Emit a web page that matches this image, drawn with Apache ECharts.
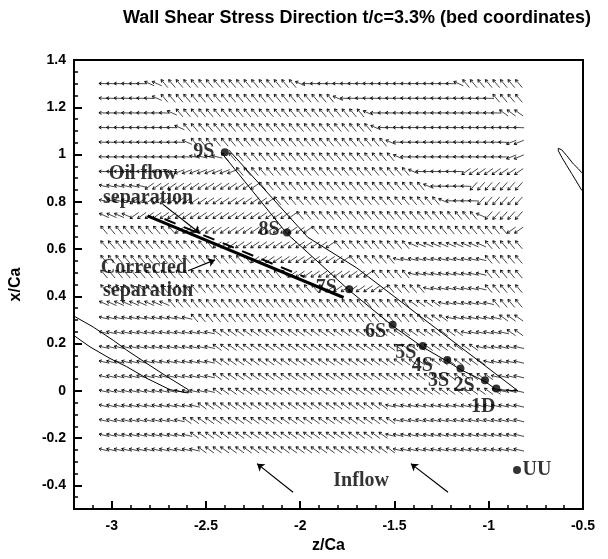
<!DOCTYPE html>
<html>
<head>
<meta charset="utf-8">
<script src="https://cdn.jsdelivr.net/npm/echarts@6/dist/echarts.min.js"></script>
<style>
html,body{margin:0;padding:0;background:#fff;}
#chart{width:608px;height:559px;}
</style>
</head>
<body>
<div id="chart"></div>
<script>
// ---- vector grid: row positions (x/Ca) and column positions (z/Ca)
const rowX = [1.30, 1.238, 1.176, 1.114, 1.052, 0.990, 0.928, 0.866, 0.804, 0.742, 0.680, 0.618, 0.556,
              0.494, 0.432, 0.370, 0.308, 0.246, 0.184, 0.122, 0.060, -0.002, -0.064, -0.126, -0.188, -0.250];
const colZ = [-3.04, -3.00, -2.96, -2.92, -2.88, -2.84, -2.80, -2.76, -2.72, -2.68, -2.64, -2.60, -2.56, -2.52,
              -2.48, -2.44, -2.40, -2.36, -2.32, -2.28, -2.24, -2.20, -2.16, -2.12, -2.08, -2.04, -2.00, -1.96,
              -1.92, -1.88, -1.84, -1.80, -1.76, -1.72, -1.68, -1.64, -1.60, -1.56, -1.52, -1.48, -1.44, -1.40,
              -1.36, -1.32, -1.28, -1.24, -1.20, -1.16, -1.12, -1.08, -1.04, -1.00, -0.96, -0.92, -0.88, -0.84];

// direction codes -> shear stress direction angle (degrees, counter-clockwise from +z)
const dirAngle = {a: 178, b: 167, c: 156, d: 144, e: 130, f: 122, g: 112, h: 190, i: 202, j: 215, k: 228, l: 240};

// run-length coded directions along each row, top row first (count + code)
const dirRows = [
  "6a 2c 18e 1c 20a 1c 8e",
  "7a 1c 23e 1c 20a 4e",
  "9a 1c 25e 1c 17a 3d",
  "10a 1c 25e 1c 19a",
  "11a 1c 26e 1c 15a 2i",
  "12a 4b 23e 1c 14a 2i",
  "10a 8i 23e 1c 6a 8j",
  "6b 15j 22e 1c 5a 7k",
  "4b 19j 22e 1c 4a 6k",
  "4c 22j 24e 1c 5k",
  "10e 18j 26e 2j",
  "15e 16j 10e 10c 5e",
  "20e 13j 6e 12b 5e",
  "25e 11j 5e 10b 5e",
  "30e 8j 5e 8b 5e",
  "9c 32e 4d 7b 4e",
  "12b 31e 3d 7b 3d",
  "15b 33d 6b 2d",
  "15b 35d 6b",
  "15b 36d 5b",
  "15b 37d 4b",
  "15b 38d 3b",
  "13b 25d 18b",
  "11b 28d 17b",
  "12b 26d 18b",
  "13b 26d 17b"
];

// ---- measurement stations
const stationNames = ["9S", "8S", "7S", "6S", "5S", "4S", "3S", "2S", "1D", "UU"];
const stationZ = [-2.40, -2.07, -1.74, -1.51, -1.35, -1.22, -1.15, -1.02, -0.96, -0.85];
const stationX = [1.01, 0.67, 0.43, 0.28, 0.19, 0.13, 0.095, 0.045, 0.01, -0.335];

// ---- outlines
const wedgeUpperZ = [-2.38, -1.96, -1.70, -0.845];
const wedgeUpperX = [1.02, 0.65, 0.52, 0.0];
const wedgeLowerZ = [-2.41, -2.07, -1.74, -1.51, -1.35, -1.22, -1.15, -1.02, -0.96, -0.845];
const wedgeLowerX = [1.00, 0.665, 0.425, 0.275, 0.185, 0.125, 0.09, 0.04, 0.005, 0.0];

const oilSepZ = [-2.81, -1.77];          // oil flow separation (solid)
const oilSepX = [0.74, 0.395];
const corrSepZ = [-2.72, -1.98];         // corrected separation (dashed)
const corrSepX = [0.727, 0.483];

const leftLoopZ = [-3.25, -3.195, -3.098, -2.992, -2.920, -2.814, -2.708, -2.594, -2.594, -2.691, -2.814, -2.920, -3.009, -3.115, -3.195, -3.25];
const leftLoopX = [0.34, 0.314, 0.270, 0.214, 0.172, 0.116, 0.061, 0.005, -0.009, 0.005, 0.053, 0.102, 0.137, 0.186, 0.231, 0.26];
const rightLoopZ = [-0.49, -0.507, -0.525, -0.551, -0.586, -0.613, -0.631, -0.631, -0.613, -0.586, -0.560, -0.533, -0.507, -0.49];
const rightLoopX = [0.915, 0.923, 0.940, 0.960, 0.995, 1.020, 1.026, 1.016, 0.989, 0.953, 0.919, 0.884, 0.849, 0.84];

// ---- arrows: [tailZ, tailX, headZ, headX]
const inflowArrows = [[-2.038, -0.429, -2.229, -0.308], [-1.216, -0.429, -1.413, -0.308]];
const pointerArrows = [[-2.728, 0.789, -2.532, 0.667], [-2.595, 0.508, -2.452, 0.554]];

// ---- annotation text [text, z, x]
const notes = [["Oil flow", -2.834, 0.919], ["separation", -2.807, 0.818],
               ["Corrected", -2.829, 0.521], ["separation", -2.807, 0.425], ["Inflow", -1.677, -0.379]];

const titleText = "Wall Shear Stress Direction t/c=3.3% (bed coordinates)";
const xMajor = [-3, -2.5, -2, -1.5, -1, -0.5];
const yMajor = [-0.4, -0.2, 0, 0.2, 0.4, 0.6, 0.8, 1, 1.2, 1.4];

// label offsets (px) for station names
const stationLabelOffset = {
  "9S": [-21, 0], "8S": [-18, -3], "7S": [-23, -1], "6S": [-17, 7], "5S": [-17, 7],
  "4S": [-25, 6], "3S": [-22, 12], "2S": [-21, 6], "1D": [-13, 18], "UU": [20, 0]
};

function decodeRow(s) {
  const out = [];
  s.trim().split(/\s+/).forEach(tok => {
    const n = parseInt(tok, 10);
    const ch = tok.replace(/[0-9]/g, '');
    for (let i = 0; i < n; i++) out.push(ch);
  });
  return out;
}

// each vector: [z, x, angle]
const fieldData = [];
dirRows.forEach((row, r) => {
  const codes = decodeRow(row);
  colZ.forEach((z, c) => {
    const ch = codes[c];
    if (ch && dirAngle[ch] !== undefined) fieldData.push([z, rowX[r], dirAngle[ch]]);
  });
});

function zip(a, b) { return a.map((v, i) => [v, b[i]]); }

// small arrow centred on its grid node
function renderVector(params, api) {
  const item = fieldData[params.dataIndex];
  const p = api.coord([item[0], item[1]]);
  const a = item[2] * Math.PI / 180;
  const ux = Math.cos(a), uy = -Math.sin(a);
  const L = 10.5, H = 3, t = 0.55;
  const tx = p[0] + ux * L / 2, ty = p[1] + uy * L / 2;
  const sx = p[0] - ux * L / 2, sy = p[1] - uy * L / 2;
  const c = Math.cos(t), s = Math.sin(t);
  const bx = -ux, by = -uy;
  const h1 = [tx + H * (bx * c - by * s), ty + H * (bx * s + by * c)];
  const h2 = [tx + H * (bx * c + by * s), ty + H * (-bx * s + by * c)];
  return {
    type: 'group',
    children: [
      {type: 'polyline', shape: {points: [[sx, sy], [tx, ty]]}, style: {stroke: '#333', lineWidth: 0.9, fill: null}},
      {type: 'polyline', shape: {points: [h1, [tx, ty], h2]}, style: {stroke: '#111', lineWidth: 1, fill: null}}
    ]
  };
}

function fmtX(v) {
  const r = Math.round(v * 100) / 100;
  return Math.abs(r * 2 - Math.round(r * 2)) < 1e-6 ? String(r) : '';
}
function fmtY(v) {
  const r = Math.round(v * 100) / 100;
  return Math.abs(r * 5 - Math.round(r * 5)) < 1e-6 ? String(r) : '';
}

const axisFont = {color: '#000', fontWeight: 'bold', fontSize: 14, fontFamily: 'Liberation Sans, Arial, sans-serif'};
const serifBold = {color: '#000', fontWeight: 'bold', fontSize: 20, fontFamily: 'Liberation Serif, Times New Roman, serif'};

const chart = echarts.init(document.getElementById('chart'));

const lineStyleSeries = (name, zs, xs, style) => ({
  type: 'line', name, data: zip(zs, xs), symbol: 'none', silent: true, animation: false,
  lineStyle: Object.assign({color: '#000', width: 1}, style), z: 4
});

chart.setOption({
  animation: false,
  backgroundColor: '#fff',
  grid: {left: 74, right: 25, top: 60, bottom: 45, show: true, borderColor: '#000', borderWidth: 2, backgroundColor: 'transparent'},
  graphic: [{
    type: 'text', x: 357, y: 18,
    style: {text: titleText, textAlign: 'center', textVerticalAlign: 'middle',
            font: 'bold 18px "Liberation Sans", Arial, sans-serif', fill: '#000'}
  }],
  xAxis: [
    {type: 'value', min: -3.2, max: -0.5, interval: 0.1, position: 'bottom',
     axisLine: {show: false, onZero: false}, splitLine: {show: false},
     axisTick: {inside: true, length: 4, lineStyle: {color: '#000', width: 1.5}},
     axisLabel: Object.assign({formatter: fmtX, margin: 10, showMinLabel: true, showMaxLabel: true}, axisFont),
     name: 'z/Ca', nameLocation: 'middle', nameGap: 29,
     nameTextStyle: {color: '#000', fontWeight: 'bold', fontSize: 16, fontFamily: 'Liberation Sans, Arial, sans-serif'}},
    {type: 'value', min: -3.2, max: -0.5, position: 'bottom',
     axisLine: {show: false, onZero: false}, splitLine: {show: false}, axisLabel: {show: false},
     axisTick: {inside: true, length: 8, customValues: xMajor, lineStyle: {color: '#000', width: 2}}}
  ],
  yAxis: [
    {type: 'value', min: -0.5, max: 1.4, interval: 0.05, position: 'left',
     axisLine: {show: false, onZero: false}, splitLine: {show: false},
     axisTick: {inside: true, length: 4, lineStyle: {color: '#000', width: 1.5}},
     axisLabel: Object.assign({formatter: fmtY, margin: 8, showMinLabel: true, showMaxLabel: true}, axisFont),
     name: 'x/Ca', nameLocation: 'middle', nameGap: 50,
     nameTextStyle: {color: '#000', fontWeight: 'bold', fontSize: 16, fontFamily: 'Liberation Sans, Arial, sans-serif'}},
    {type: 'value', min: -0.5, max: 1.4, position: 'left',
     axisLine: {show: false, onZero: false}, splitLine: {show: false}, axisLabel: {show: false},
     axisTick: {inside: true, length: 8, customValues: yMajor, lineStyle: {color: '#000', width: 2}}}
  ],
  series: [
    {type: 'custom', name: 'shear', data: fieldData, renderItem: renderVector, clip: true,
     dimensions: ['z', 'x', 'angle'], encode: {x: 0, y: 1}, silent: true, z: 2},
    lineStyleSeries('wedgeUpper', wedgeUpperZ, wedgeUpperX, {width: 1}),
    lineStyleSeries('wedgeLower', wedgeLowerZ, wedgeLowerX, {width: 1}),
    lineStyleSeries('oilSep', oilSepZ, oilSepX, {width: 3}),
    lineStyleSeries('corrSep', corrSepZ, corrSepX, {width: 2, type: [12, 9]}),
    lineStyleSeries('leftLoop', leftLoopZ, leftLoopX, {width: 1}),
    lineStyleSeries('rightLoop', rightLoopZ, rightLoopX, {width: 1}),
    {type: 'lines', coordinateSystem: 'cartesian2d', silent: true, z: 5,
     symbol: ['none', 'arrow'], symbolSize: 7,
     lineStyle: {color: '#000', width: 1.2, opacity: 1},
     data: inflowArrows.concat(pointerArrows).map(a => ({coords: [[a[0], a[1]], [a[2], a[3]]]}))},
    {type: 'scatter', name: 'stations', symbol: 'circle', symbolSize: 8, z: 6,
     itemStyle: {color: '#000'},
     data: stationNames.map((n, i) => ({
       value: [stationZ[i], stationX[i]], name: n,
       label: {show: true, formatter: n, position: 'inside', offset: stationLabelOffset[n]}
     })),
     label: Object.assign({show: true}, serifBold)},
    {type: 'scatter', name: 'notes', symbolSize: 0, z: 6,
     data: notes.map(n => ({value: [n[1], n[2]], name: n[0]})),
     label: Object.assign({show: true, position: 'inside', formatter: p => p.name}, serifBold)}
  ]
});
</script>
</body>
</html>
